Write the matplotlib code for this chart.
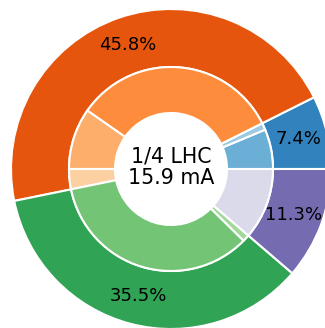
import matplotlib.pyplot as plt

# beam current share per group (outer ring) and per sub-group (inner ring)
groups = ['B', 'O', 'G', 'P']
group_share = [7.4, 45.8, 35.5, 11.3]
sub_share = [6.3, 1.1, 32.9, 9.7, 3.2, 34.4, 1.1, 11.3]
center_label = '1/4 LHC\n15.9 mA'

cmap = plt.colormaps['tab20c']
outer_colors = cmap([0, 4, 8, 12])
inner_colors = cmap([1, 2, 5, 6, 7, 9, 10, 15])

fig = plt.figure(figsize=(3.25, 3.28), dpi=100)
ax = fig.add_axes([0, 0, 1, 1])

R = 1.0
ax.pie(group_share, radius=R, colors=outer_colors, startangle=0,
       autopct='%1.1f%%', pctdistance=0.82,
       textprops=dict(fontsize=13, color='black'),
       wedgeprops=dict(width=R - 0.6375, edgecolor='white', linewidth=1.5))

ax.pie(sub_share, radius=0.6375, colors=inner_colors, startangle=0,
       wedgeprops=dict(width=0.6375 - 0.35, edgecolor='white', linewidth=1.5))

ax.text(0, 0.012, center_label, ha='center', va='center', fontsize=14.8,
        linespacing=1.12)

ax.set_xlim(-171 / 160, 154 / 160)
ax.set_ylim(-159 / 160, 169 / 160)
ax.set_aspect('auto')
ax.axis('off')

fig.savefig('out.png', dpi=100)
